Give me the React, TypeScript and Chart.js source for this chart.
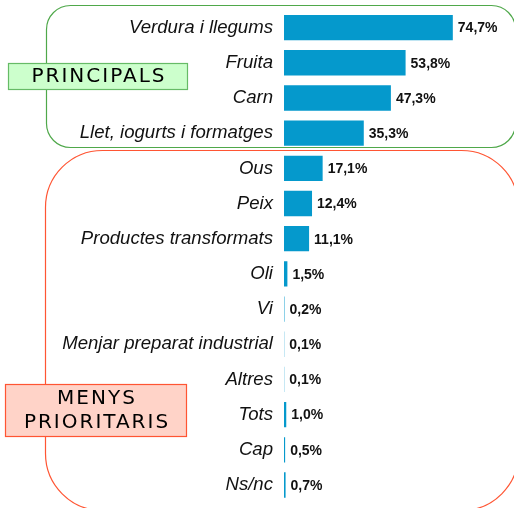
import React, { useEffect, useRef } from "react";
import { Chart, registerables } from "chart.js";

Chart.register(...registerables);

const categories = [
  "Verdura i llegums",
  "Fruita",
  "Carn",
  "Llet, iogurts i formatges",
  "Ous",
  "Peix",
  "Productes transformats",
  "Oli",
  "Vi",
  "Menjar preparat industrial",
  "Altres",
  "Tots",
  "Cap",
  "Ns/nc",
];
const values = [74.7, 53.8, 47.3, 35.3, 17.1, 12.4, 11.1, 1.5, 0.2, 0.1, 0.1, 1.0, 0.5, 0.7];
const groupPrincipal = "PRINCIPALS";
const groupMenys = ["MENYS", "PRIORITARIS"];

const fmt = (v: number) => v.toFixed(1).replace(".", ",") + "%";

function roundRect(ctx: CanvasRenderingContext2D, x: number, y: number, w: number, h: number, r: number) {
  ctx.beginPath();
  ctx.moveTo(x + r, y);
  ctx.lineTo(x + w - r, y);
  ctx.arcTo(x + w, y, x + w, y + r, r);
  ctx.lineTo(x + w, y + h - r);
  ctx.arcTo(x + w, y + h, x + w - r, y + h, r);
  ctx.lineTo(x + r, y + h);
  ctx.arcTo(x, y + h, x, y + h - r, r);
  ctx.lineTo(x, y + r);
  ctx.arcTo(x, y, x + r, y, r);
  ctx.closePath();
}

const decorPlugin = {
  id: "decor",
  beforeDraw(chart: any) {
    const ctx = chart.ctx as CanvasRenderingContext2D;
    ctx.save();
    ctx.lineWidth = 1.2;
    ctx.strokeStyle = "#4fa84a";
    roundRect(ctx, 46.5, 5.5, 469, 142, 24);
    ctx.stroke();
    ctx.strokeStyle = "#ff5533";
    roundRect(ctx, 45.5, 150.5, 473, 360, 57);
    ctx.stroke();
    ctx.restore();
  },
  afterDraw(chart: any) {
    const ctx = chart.ctx as CanvasRenderingContext2D;
    ctx.save();
    ctx.fillStyle = "#ccffcc";
    ctx.fillRect(8, 63, 180, 27);
    ctx.strokeStyle = "#66bb66";
    ctx.lineWidth = 1.2;
    ctx.strokeRect(8.5, 63.5, 179, 26);
    ctx.fillStyle = "#000";
    ctx.font = "20px 'DejaVu Sans'";
    (ctx as any).letterSpacing = "2px";
    ctx.textAlign = "center";
    ctx.textBaseline = "middle";
    ctx.fillText(groupPrincipal, 99, 77);
    ctx.fillStyle = "#ffd3c8";
    ctx.fillRect(5, 384, 182, 53);
    ctx.strokeStyle = "#ff5533";
    ctx.strokeRect(5.5, 384.5, 181, 52);
    ctx.fillStyle = "#000";
    ctx.fillText(groupMenys[0], 97, 399);
    ctx.fillText(groupMenys[1], 97, 423);
    ctx.restore();
  },
  afterDatasetsDraw(chart: any) {
    const ctx = chart.ctx as CanvasRenderingContext2D;
    const meta = chart.getDatasetMeta(0);
    ctx.save();
    ctx.font = "bold 14px 'Liberation Sans'";
    ctx.fillStyle = "#111";
    ctx.textAlign = "left";
    ctx.textBaseline = "middle";
    meta.data.forEach((bar: any, i: number) => {
      ctx.fillText(fmt(values[i]), bar.x + 5, bar.y + 1);
    });
    ctx.restore();
  },
};

export default function App() {
  const ref = useRef<HTMLCanvasElement | null>(null);
  useEffect(() => {
    if (!ref.current) return;
    const chart = new Chart(ref.current, {
      type: "bar",
      data: {
        labels: categories,
        datasets: [
          {
            data: values,
            backgroundColor: "#0599cc",
            borderWidth: 0,
            barPercentage: 0.72,
            categoryPercentage: 1,
          },
        ],
      },
      options: {
        indexAxis: "y",
        animation: false,
        responsive: false,
        devicePixelRatio: 1,
        layout: { padding: { left: 0, right: 4, top: 10, bottom: 5.4 } },
        plugins: { legend: { display: false }, tooltip: { enabled: false } },
        scales: {
          x: { display: false, min: 0, max: 100 },
          y: {
            afterFit: (s: any) => {
              s.width = 284;
              s.paddingTop = 0;
              s.paddingBottom = 0;
            },
            grid: { display: false, drawTicks: false },
            border: { display: false },
            ticks: {
              padding: 11,
              color: "#111",
              font: { family: "'Liberation Sans'", size: 18.6, style: "italic" },
            },
          },
        },
      },
      plugins: [decorPlugin],
    });
    return () => chart.destroy();
  }, []);
  return (
    <div style={{ position: "fixed", left: 0, top: 0, width: 514, height: 508, background: "#fff" }}>
      <canvas ref={ref} width={514} height={508} style={{ display: "block" }} />
    </div>
  );
}
